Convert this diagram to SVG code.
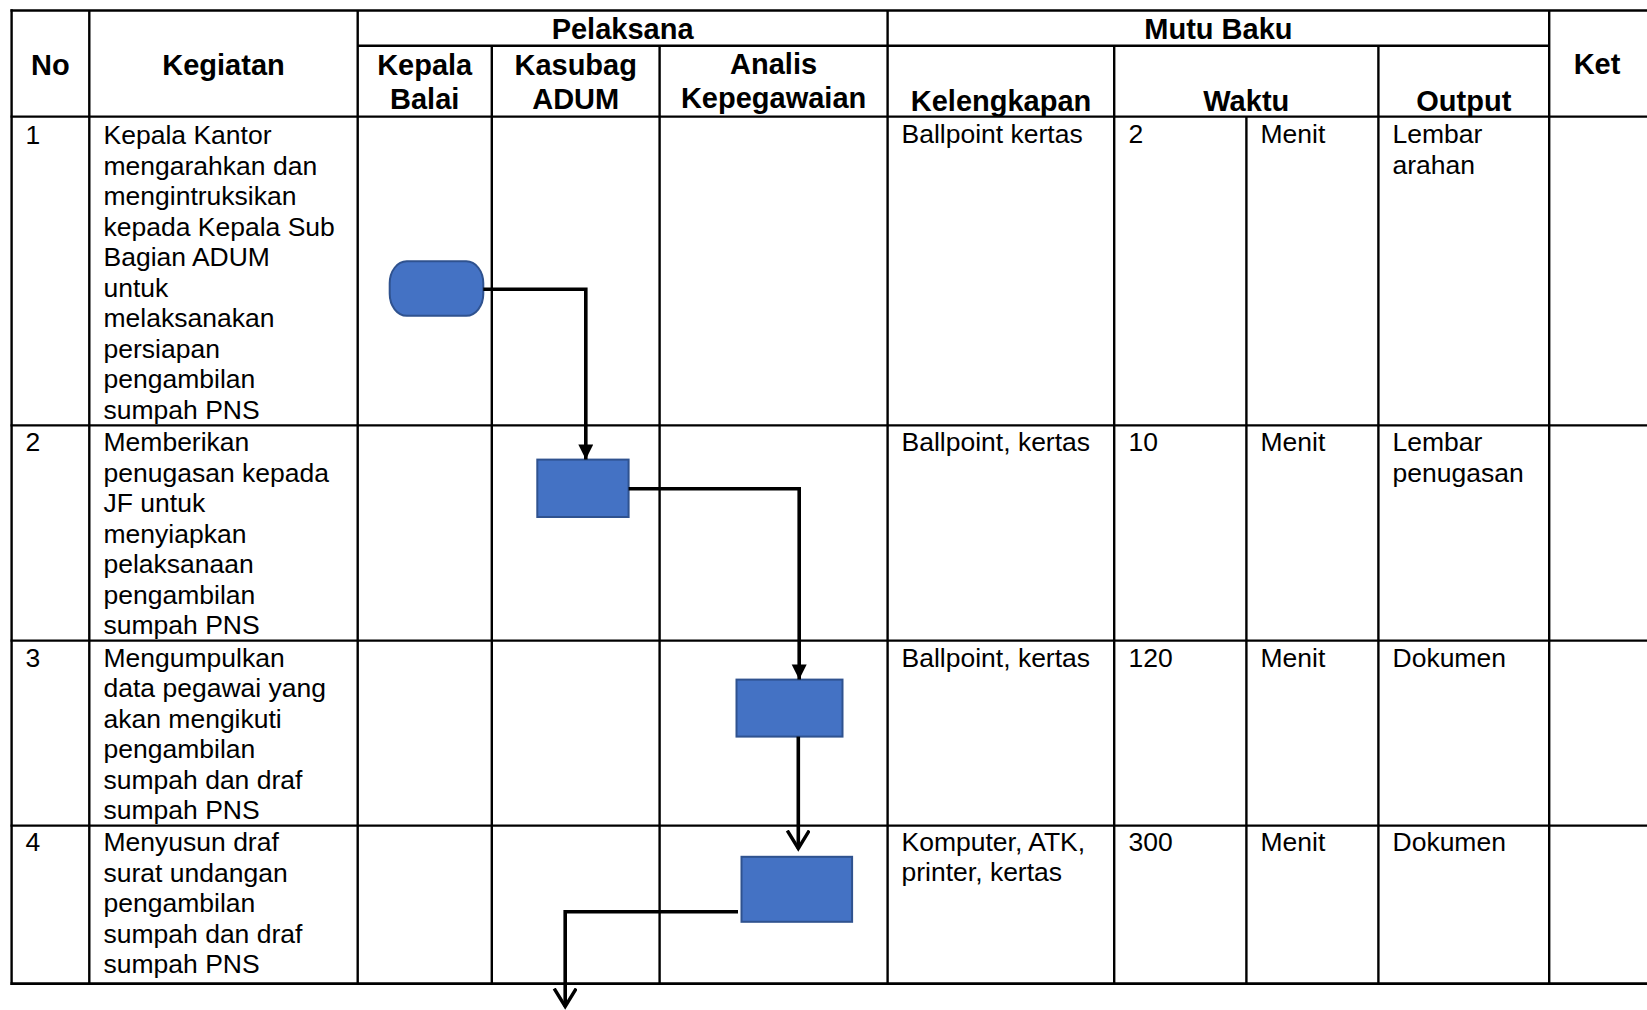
<svg xmlns="http://www.w3.org/2000/svg" width="1647" height="1010" viewBox="0 0 1647 1010">
<style>
.grid line{stroke:#000;stroke-width:2.4;fill:none}
.h{font-family:"Liberation Sans",Arial,sans-serif;font-weight:bold;font-size:29px;fill:#000;text-anchor:middle}
.t{font-family:"Liberation Sans",Arial,sans-serif;font-size:26.5px;fill:#000}
.box{fill:#4472C4;stroke:#2F528F;stroke-width:2}
.conn path{stroke:#000;stroke-width:3.6;fill:none}
</style>
<defs>
<marker id="tri" markerUnits="userSpaceOnUse" markerWidth="18" markerHeight="18" refX="15" refY="7.5" orient="auto">
<path d="M0,0 L15,7.5 L0,15 z" fill="#000"/>
</marker>
<marker id="vee" markerUnits="userSpaceOnUse" markerWidth="24" markerHeight="26" refX="19" refY="12" orient="auto">
<path d="M1,1 L19,12 L1,23" fill="none" stroke="#000" stroke-width="3.4"/>
</marker>
</defs>
<rect width="1647" height="1010" fill="#fff"/>
<g id="table" class="grid">
<line x1="10.5" y1="10.5" x2="1648" y2="10.5"/>
<line x1="357.7" y1="45.7" x2="1549" y2="45.7"/>
<line x1="10.5" y1="116.6" x2="1648" y2="116.6"/>
<line x1="10.5" y1="425.4" x2="1648" y2="425.4"/>
<line x1="10.5" y1="640.6" x2="1648" y2="640.6"/>
<line x1="10.5" y1="825.6" x2="1648" y2="825.6"/>
<line x1="10.5" y1="983.6" x2="1648" y2="983.6" style="stroke-width:2.8"/>
<line x1="11.6" y1="9.3" x2="11.6" y2="985"/>
<line x1="89.3" y1="10.5" x2="89.3" y2="983.6"/>
<line x1="357.7" y1="10.5" x2="357.7" y2="983.6"/>
<line x1="491.8" y1="45.7" x2="491.8" y2="983.6"/>
<line x1="659.6" y1="45.7" x2="659.6" y2="983.6"/>
<line x1="887.6" y1="10.5" x2="887.6" y2="983.6"/>
<line x1="1114.2" y1="45.7" x2="1114.2" y2="983.6"/>
<line x1="1246.4" y1="116.6" x2="1246.4" y2="983.6"/>
<line x1="1378.4" y1="45.7" x2="1378.4" y2="983.6"/>
<line x1="1549.2" y1="10.5" x2="1549.2" y2="983.6"/>
</g>
<g id="header">
<text class="h" x="50.4" y="74.5">No</text>
<text class="h" x="223.5" y="74.5">Kegiatan</text>
<text class="h" x="622.6" y="39">Pelaksana</text>
<text class="h" x="424.7" y="74.8">Kepala</text>
<text class="h" x="424.7" y="109">Balai</text>
<text class="h" x="575.7" y="74.8">Kasubag</text>
<text class="h" x="575.7" y="109">ADUM</text>
<text class="h" x="773.6" y="74">Analis</text>
<text class="h" x="773.6" y="108">Kepegawaian</text>
<text class="h" x="1218.4" y="39">Mutu Baku</text>
<text class="h" x="1001" y="110.8">Kelengkapan</text>
<text class="h" x="1246.3" y="110.8">Waktu</text>
<text class="h" x="1463.8" y="110.8">Output</text>
<text class="h" x="1597" y="74">Ket</text>
</g>
<g id="row1" class="t">
<text x="25.5" y="144.3">1</text>
<text x="103.5" y="144.3">
<tspan x="103.5">Kepala Kantor</tspan>
<tspan x="103.5" dy="30.5">mengarahkan dan</tspan>
<tspan x="103.5" dy="30.5">mengintruksikan</tspan>
<tspan x="103.5" dy="30.5">kepada Kepala Sub</tspan>
<tspan x="103.5" dy="30.5">Bagian ADUM</tspan>
<tspan x="103.5" dy="30.5">untuk</tspan>
<tspan x="103.5" dy="30.5">melaksanakan</tspan>
<tspan x="103.5" dy="30.5">persiapan</tspan>
<tspan x="103.5" dy="30.5">pengambilan</tspan>
<tspan x="103.5" dy="30.5">sumpah PNS</tspan>
</text>
<text x="901.5" y="143.3">Ballpoint kertas</text>
<text x="1128.5" y="143.3">2</text>
<text x="1260.5" y="143.3">Menit</text>
<text x="1392.5" y="143.3"><tspan x="1392.5">Lembar</tspan><tspan x="1392.5" dy="30.5">arahan</tspan></text>
</g>
<g id="row2" class="t">
<text x="25.5" y="451">2</text>
<text x="103.5" y="451">
<tspan x="103.5">Memberikan</tspan>
<tspan x="103.5" dy="30.5">penugasan kepada</tspan>
<tspan x="103.5" dy="30.5">JF untuk</tspan>
<tspan x="103.5" dy="30.5">menyiapkan</tspan>
<tspan x="103.5" dy="30.5">pelaksanaan</tspan>
<tspan x="103.5" dy="30.5">pengambilan</tspan>
<tspan x="103.5" dy="30.5">sumpah PNS</tspan>
</text>
<text x="901.5" y="451">Ballpoint, kertas</text>
<text x="1128.5" y="451">10</text>
<text x="1260.5" y="451">Menit</text>
<text x="1392.5" y="451"><tspan x="1392.5">Lembar</tspan><tspan x="1392.5" dy="30.5">penugasan</tspan></text>
</g>
<g id="row3" class="t">
<text x="25.5" y="666.5">3</text>
<text x="103.5" y="666.5">
<tspan x="103.5">Mengumpulkan</tspan>
<tspan x="103.5" dy="30.5">data pegawai yang</tspan>
<tspan x="103.5" dy="30.5">akan mengikuti</tspan>
<tspan x="103.5" dy="30.5">pengambilan</tspan>
<tspan x="103.5" dy="30.5">sumpah dan draf</tspan>
<tspan x="103.5" dy="30.5">sumpah PNS</tspan>
</text>
<text x="901.5" y="666.5">Ballpoint, kertas</text>
<text x="1128.5" y="666.5">120</text>
<text x="1260.5" y="666.5">Menit</text>
<text x="1392.5" y="666.5">Dokumen</text>
</g>
<g id="row4" class="t">
<text x="25.5" y="851">4</text>
<text x="103.5" y="851">
<tspan x="103.5">Menyusun draf</tspan>
<tspan x="103.5" dy="30.5">surat undangan</tspan>
<tspan x="103.5" dy="30.5">pengambilan</tspan>
<tspan x="103.5" dy="30.5">sumpah dan draf</tspan>
<tspan x="103.5" dy="30.5">sumpah PNS</tspan>
</text>
<text x="901.5" y="851"><tspan x="901.5">Komputer, ATK,</tspan><tspan x="901.5" dy="30.3">printer, kertas</tspan></text>
<text x="1128.5" y="851">300</text>
<text x="1260.5" y="851">Menit</text>
<text x="1392.5" y="851">Dokumen</text>
</g>
<g id="start"><rect class="box" x="389.7" y="261.3" width="93.6" height="54.5" rx="17" ry="22"/></g>
<g id="step2"><rect class="box" x="537.3" y="459.6" width="91.3" height="57.4"/></g>
<g id="step3"><rect class="box" x="736.5" y="679.6" width="106" height="57"/></g>
<g id="step4"><rect class="box" x="741.5" y="856.8" width="110.6" height="65"/></g>
<g id="connectors" class="conn">
<path d="M483.3,289.3 H585.8 V459.4" marker-end="url(#tri)"/>
<path d="M628.6,488.8 H799.2 V679.4" marker-end="url(#tri)"/>
<path d="M798.3,736.6 V848.5" marker-end="url(#vee)"/>
<path d="M738,911.7 H565.2 V1006.5" marker-end="url(#vee)"/>
</g>
</svg>
